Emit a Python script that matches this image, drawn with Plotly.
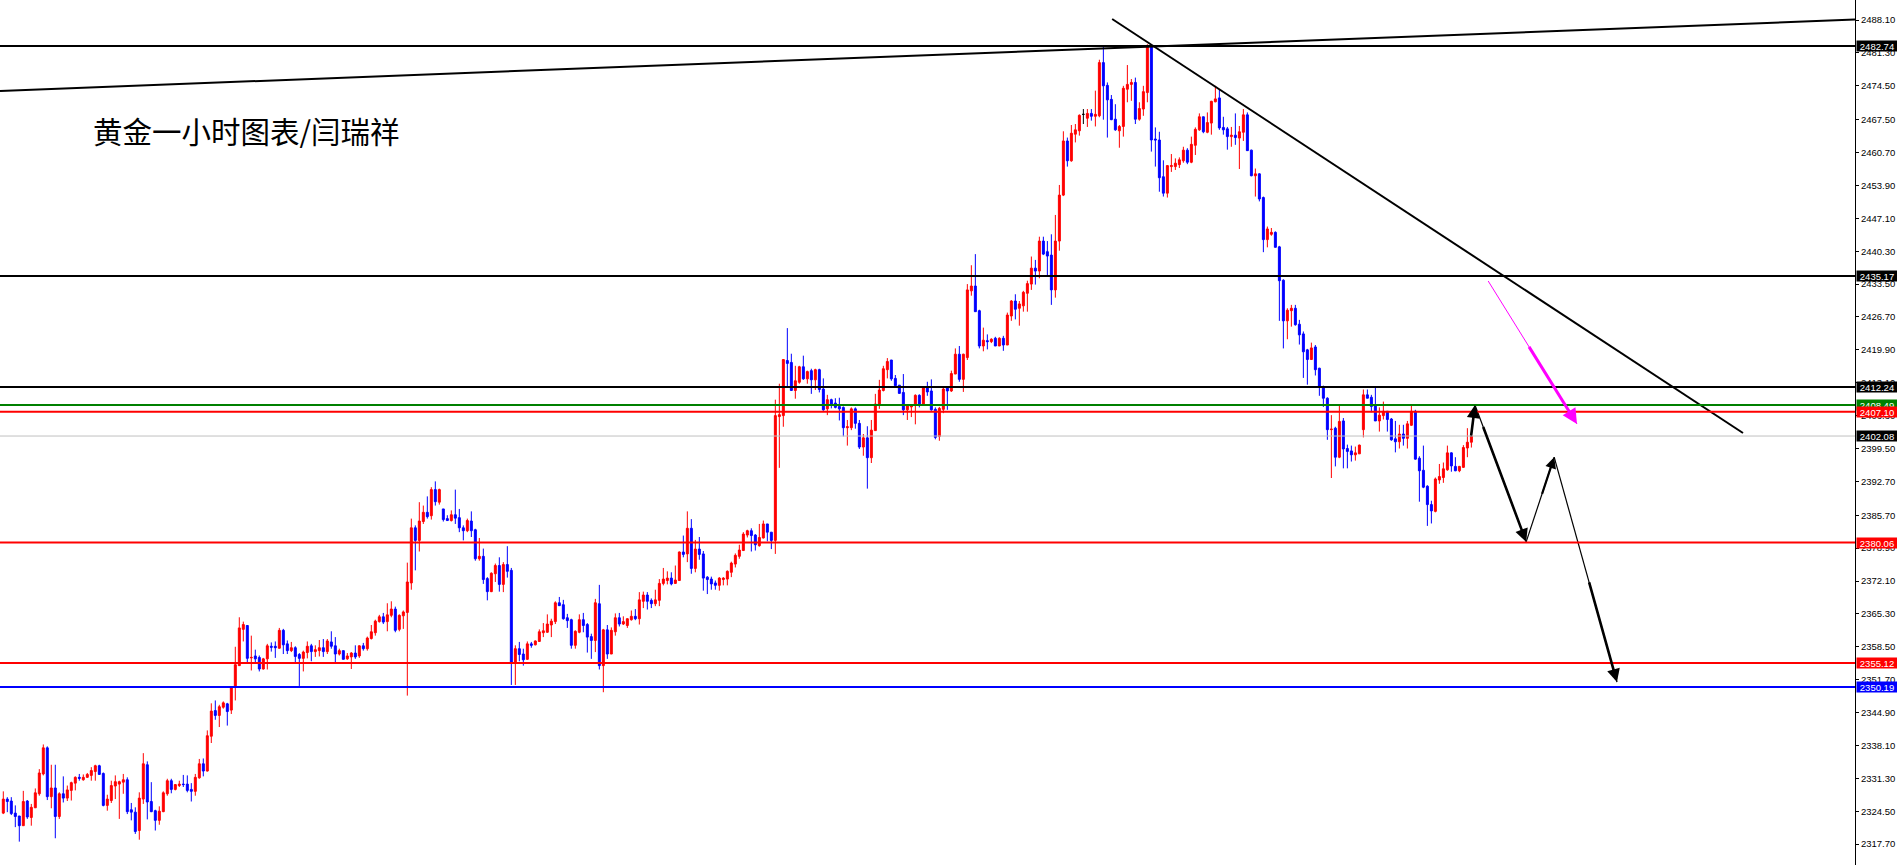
import plotly.graph_objects as go

# ---------------- data (XAUUSD H1) ----------------
opens = [
2324.1,2327.0,2326.6,2324.1,2323.5,2321.5,2326.6,2323.2,2325.2,2328.1,
2332.2,2337.6,2327.5,2329.3,2323.4,2328.1,2327.2,2328.8,2330.3,2331.5,
2331.0,2331.5,2331.9,2332.7,2333.9,2332.3,2325.7,2326.7,2329.7,2330.1,
2330.5,2331.0,2324.8,2324.3,2320.5,2327.0,2334.1,2326.5,2324.6,2322.6,
2324.4,2328.1,2330.8,2329.0,2329.8,2330.1,2330.1,2329.0,2328.6,2331.4,
2334.3,2332.8,2340.0,2345.3,2344.3,2346.0,2346.7,2345.4,2350.1,2354.6,
2362.1,2362.9,2356.2,2356.6,2356.3,2353.9,2356.0,2358.6,2358.6,2358.2,
2361.9,2359.1,2357.7,2358.3,2356.9,2356.1,2357.3,2358.7,2357.5,2357.7,
2358.3,2357.5,2359.5,2358.7,2357.0,2357.7,2356.0,2356.4,2357.2,2356.6,
2358.7,2358.1,2360.2,2361.4,2363.7,2364.7,2363.7,2365.0,2366.3,2362.1,
2364.9,2365.6,2371.7,2383.1,2380.5,2384.4,2386.3,2385.6,2391.0,2388.4,
2387.0,2385.0,2384.6,2385.8,2385.2,2383.1,2382.5,2384.5,2382.7,2376.7,
2377.2,2372.6,2369.9,2373.6,2375.3,2371.4,2375.5,2374.3,2355.1,2358.1,
2357.0,2355.9,2359.1,2358.9,2359.6,2361.4,2361.5,2363.0,2363.7,2367.6,
2367.2,2364.5,2364.1,2358.8,2361.5,2364.1,2363.1,2360.6,2359.8,2367.4,
2354.6,2362.0,2357.0,2361.6,2364.5,2363.2,2362.9,2364.1,2364.8,2364.3,
2367.9,2369.2,2368.1,2367.4,2368.1,2371.6,2372.2,2372.7,2371.6,2372.2,
2378.1,2377.7,2383.0,2374.7,2378.7,2377.7,2372.9,2372.5,2371.7,2371.2,
2372.4,2372.5,2373.9,2375.6,2377.2,2378.4,2381.6,2382.5,2381.6,2379.4,
2381.0,2383.9,2382.2,2380.5,2406.1,2406.3,2417.7,2417.3,2411.5,2413.2,
2416.4,2413.9,2415.6,2413.7,2415.8,2411.8,2407.7,2409.6,2408.9,2408.2,
2408.0,2403.8,2403.8,2407.7,2404.7,2399.8,2401.7,2397.6,2403.2,2408.6,
2411.5,2415.8,2417.8,2414.0,2412.6,2411.1,2407.5,2408.1,2408.5,2410.5,
2408.7,2412.0,2411.4,2407.6,2402.0,2407.6,2412.0,2411.4,2414.9,2419.0,
2413.8,2418.3,2432.1,2433.1,2428.0,2420.7,2421.8,2421.6,2422.3,2420.7,
2422.3,2420.9,2426.9,2430.0,2428.5,2429.0,2431.6,2433.5,2436.8,2436.2,
2442.4,2440.2,2439.5,2432.3,2442.4,2451.9,2463.1,2459.0,2464.5,2465.2,
2468.6,2467.8,2468.8,2468.2,2468.3,2479.3,2474.6,2471.7,2467.6,2465.2,
2466.1,2473.8,2474.8,2475.2,2467.6,2469.7,2473.1,2482.8,2463.5,2463.3,
2455.7,2452.3,2457.8,2457.8,2458.2,2459.0,2461.2,2458.7,2462.2,2465.4,
2468.1,2464.9,2466.8,2471.2,2472.0,2465.9,2465.6,2464.0,2464.3,2463.7,
2464.9,2468.5,2461.2,2455.9,2456.3,2451.4,2442.7,2443.8,2444.2,2441.2,
2434.3,2425.9,2428.0,2428.5,2425.2,2423.2,2419.9,2417.9,2420.5,2416.1,
2412.3,2409.9,2403.4,2403.7,2397.7,2405.2,2399.5,2399.0,2398.2,2398.4,
2403.4,2410.6,2410.1,2408.5,2405.2,2406.3,2407.2,2405.6,2401.5,2400.9,
2402.5,2401.6,2404.3,2407.2,2397.5,2395.0,2391.7,2387.9,2386.5,2393.0,
2393.5,2395.1,2398.6,2395.8,2394.9,2395.6,2399.6,2400.8]

highs = [
2328.6,2327.4,2327.4,2325.7,2323.5,2328.7,2326.8,2326.0,2329.2,2333.2,
2338.3,2337.9,2334.1,2334.1,2328.4,2331.7,2329.8,2330.6,2331.7,2332.2,
2332.1,2332.4,2333.6,2334.1,2334.1,2332.5,2327.9,2330.8,2331.9,2330.8,
2332.2,2331.5,2326.2,2325.3,2328.4,2336.5,2334.8,2330.5,2324.8,2325.5,
2328.6,2331.2,2331.2,2330.1,2330.8,2332.0,2331.9,2330.3,2332.2,2335.3,
2335.4,2341.2,2346.8,2347.4,2346.5,2347.2,2346.9,2350.3,2358.5,2364.6,
2363.7,2363.0,2360.8,2357.9,2356.7,2356.2,2359.1,2359.4,2359.6,2362.4,
2362.2,2359.8,2359.5,2358.6,2357.2,2357.7,2359.6,2359.1,2358.8,2359.9,
2360.1,2360.1,2361.7,2360.5,2358.1,2357.7,2357.2,2357.4,2358.8,2358.8,
2359.3,2360.6,2363.0,2364.1,2365.1,2365.5,2367.5,2367.9,2366.8,2365.2,
2366.0,2375.9,2385.0,2383.6,2388.4,2387.7,2389.6,2391.5,2392.7,2391.2,
2387.0,2385.7,2386.7,2391.0,2387.0,2383.6,2385.0,2386.5,2382.9,2381.0,
2378.8,2372.9,2373.9,2375.7,2377.0,2376.0,2379.3,2374.8,2358.8,2359.5,
2358.1,2359.6,2359.5,2359.8,2362.1,2363.4,2365.2,2364.3,2367.9,2368.8,
2368.2,2365.3,2364.3,2361.9,2365.2,2365.5,2363.4,2361.2,2368.4,2371.3,
2362.2,2363.0,2362.5,2365.4,2365.5,2364.8,2364.4,2366.0,2366.3,2369.8,
2369.9,2369.8,2368.5,2370.3,2372.5,2374.8,2374.1,2373.9,2375.3,2378.2,
2381.5,2386.5,2384.9,2380.6,2381.2,2378.3,2373.1,2373.0,2372.2,2372.9,
2372.9,2374.3,2376.1,2377.8,2379.6,2382.2,2382.7,2383.0,2381.8,2383.9,
2384.6,2383.9,2382.2,2409.6,2412.9,2417.9,2424.4,2419.1,2416.6,2416.6,
2418.7,2415.6,2416.0,2416.0,2416.0,2414.0,2410.6,2409.8,2409.9,2410.0,
2408.2,2405.4,2408.0,2408.0,2405.4,2402.5,2404.1,2405.4,2410.8,2413.7,
2416.6,2418.2,2417.8,2414.7,2412.6,2414.9,2408.7,2408.5,2410.7,2410.7,
2412.1,2413.3,2413.8,2408.0,2408.1,2412.1,2412.1,2415.6,2420.2,2420.7,
2419.1,2433.5,2437.4,2439.7,2428.2,2424.5,2423.1,2422.3,2422.6,2422.5,
2422.8,2427.6,2430.2,2431.4,2430.0,2432.1,2434.2,2439.2,2438.5,2443.3,
2443.3,2442.4,2443.8,2447.8,2454.0,2465.1,2463.8,2466.4,2466.6,2468.6,
2469.7,2469.7,2469.7,2473.5,2479.9,2482.9,2475.2,2472.6,2470.7,2466.4,
2474.5,2478.8,2475.9,2476.2,2471.1,2474.5,2483.1,2483.1,2465.9,2465.0,
2459.1,2458.1,2460.4,2459.5,2459.7,2461.9,2461.6,2464.0,2465.9,2468.8,
2468.1,2469.0,2471.4,2474.5,2473.8,2468.1,2466.0,2466.0,2468.8,2466.2,
2469.7,2469.0,2461.3,2457.4,2456.4,2451.6,2445.4,2445.1,2444.4,2441.4,
2434.5,2428.5,2429.2,2429.2,2426.1,2423.7,2420.1,2421.4,2420.9,2416.2,
2412.5,2410.1,2406.4,2404.0,2408.3,2405.8,2400.3,2400.1,2399.9,2400.3,
2411.7,2411.7,2410.6,2412.1,2408.0,2409.2,2407.2,2405.8,2405.2,2404.4,
2404.4,2405.2,2408.3,2407.5,2397.9,2400.1,2391.9,2388.7,2393.5,2396.3,
2396.6,2400.1,2398.7,2397.7,2395.9,2400.2,2403.7,2402.2]

lows = [
2323.9,2324.3,2323.7,2321.2,2318.2,2321.5,2322.9,2321.5,2325.2,2327.7,
2331.9,2326.8,2325.1,2318.9,2322.9,2326.3,2326.6,2326.7,2328.8,2330.8,
2330.8,2331.4,2330.8,2330.8,2332.1,2325.5,2324.6,2326.2,2327.0,2322.9,
2328.1,2323.9,2322.6,2319.8,2318.6,2326.0,2322.8,2324.3,2320.5,2321.7,
2324.3,2327.7,2328.2,2328.8,2329.5,2329.5,2328.4,2326.5,2327.7,2331.2,
2331.7,2332.7,2338.6,2343.4,2341.9,2345.7,2342.2,2344.6,2347.4,2354.6,
2359.6,2355.2,2353.6,2355.2,2353.4,2353.8,2353.8,2357.5,2356.2,2358.1,
2357.0,2357.0,2357.4,2355.3,2350.4,2353.4,2356.1,2355.5,2356.4,2356.5,
2356.4,2357.0,2358.1,2355.3,2356.7,2355.9,2355.8,2353.9,2356.0,2356.2,
2357.7,2357.7,2360.0,2360.8,2363.5,2363.2,2361.7,2364.6,2361.5,2361.7,
2362.2,2348.4,2370.3,2374.3,2378.2,2383.9,2385.0,2384.8,2387.7,2387.9,
2384.4,2384.6,2384.4,2383.9,2382.2,2380.5,2382.2,2381.2,2376.3,2376.3,
2371.5,2368.1,2369.8,2371.9,2369.9,2369.8,2372.8,2350.6,2350.6,2355.5,
2354.6,2355.8,2358.3,2358.8,2359.5,2360.5,2361.4,2360.5,2363.2,2367.0,
2364.1,2362.4,2358.1,2358.1,2361.3,2361.5,2357.3,2356.0,2357.4,2353.8,
2349.1,2356.0,2357.0,2360.8,2362.7,2363.0,2362.4,2363.9,2364.0,2363.1,
2366.5,2366.2,2366.5,2366.9,2366.9,2371.2,2371.4,2371.2,2371.6,2372.2,
2377.0,2376.0,2373.6,2373.9,2376.5,2370.1,2369.4,2370.3,2370.3,2370.1,
2371.2,2371.2,2372.9,2374.9,2376.7,2378.3,2381.1,2378.2,2378.4,2379.2,
2380.9,2380.3,2378.7,2377.7,2395.5,2404.0,2412.2,2411.5,2409.8,2412.9,
2413.7,2412.9,2410.8,2411.6,2411.1,2407.3,2406.4,2407.8,2407.8,2405.3,
2402.0,2400.1,2403.3,2403.6,2399.4,2398.0,2391.2,2396.5,2403.2,2407.7,
2411.3,2414.0,2413.5,2412.1,2410.9,2406.4,2405.4,2406.0,2404.5,2408.0,
2408.5,2410.4,2407.3,2401.4,2401.1,2406.8,2407.5,2411.2,2414.9,2413.3,
2411.2,2417.8,2431.1,2427.8,2420.2,2419.6,2420.0,2421.3,2420.7,2420.7,
2419.7,2420.9,2425.9,2426.2,2424.9,2427.8,2427.8,2432.3,2433.4,2434.7,
2439.5,2435.2,2429.2,2430.7,2440.4,2451.7,2457.8,2458.8,2462.8,2464.2,
2466.6,2466.0,2467.3,2466.1,2468.0,2467.5,2463.8,2467.4,2465.2,2461.7,
2464.0,2471.1,2471.4,2466.6,2467.3,2468.3,2471.1,2460.9,2457.8,2452.6,
2451.6,2451.4,2456.7,2457.1,2457.5,2458.6,2458.3,2458.5,2460.2,2465.2,
2464.7,2464.7,2464.4,2471.1,2465.4,2464.4,2461.3,2461.9,2462.3,2457.3,
2463.1,2461.1,2455.8,2451.6,2450.6,2440.1,2441.1,2443.5,2441.1,2425.9,
2420.2,2422.1,2424.7,2424.9,2421.0,2414.1,2412.7,2417.9,2414.6,2410.4,
2408.1,2401.3,2393.4,2395.8,2397.5,2395.4,2395.4,2396.8,2397.0,2398.4,
2401.8,2409.9,2407.0,2405.2,2403.0,2405.5,2403.0,2401.1,2398.7,2399.5,
2400.1,2399.5,2404.2,2397.2,2388.5,2391.3,2383.5,2384.0,2386.3,2392.2,
2392.4,2394.9,2394.7,2394.8,2394.6,2395.5,2397.7,2399.7]

closes = [
2327.0,2326.5,2324.0,2323.4,2321.5,2326.5,2323.3,2325.3,2328.3,2332.4,
2337.6,2327.5,2329.3,2323.4,2328.1,2327.2,2328.9,2330.4,2331.5,2331.3,
2331.5,2332.1,2332.9,2333.9,2332.1,2325.7,2327.0,2329.8,2330.6,2330.6,
2331.0,2324.4,2324.3,2320.3,2327.2,2334.3,2326.4,2324.4,2322.6,2324.5,
2328.3,2330.8,2329.0,2330.0,2330.1,2330.0,2328.8,2328.6,2331.5,2334.3,
2332.8,2340.1,2345.2,2344.3,2346.1,2346.9,2345.1,2350.1,2354.8,2362.4,
2363.1,2356.1,2356.3,2356.0,2353.9,2356.0,2358.7,2358.4,2358.3,2361.9,
2358.9,2357.7,2358.3,2356.5,2356.1,2357.4,2358.6,2357.5,2357.9,2358.3,
2357.5,2359.7,2358.6,2357.0,2357.7,2355.9,2356.6,2357.2,2356.4,2358.7,
2358.1,2360.3,2361.6,2363.8,2364.7,2363.6,2365.1,2366.3,2361.9,2365.0,
2365.7,2371.9,2383.1,2380.5,2384.5,2386.3,2385.4,2391.0,2388.5,2391.0,
2384.8,2384.6,2385.8,2385.1,2383.1,2382.5,2384.6,2382.5,2376.7,2377.2,
2372.4,2369.9,2373.7,2375.3,2371.4,2375.5,2374.1,2355.1,2358.1,2356.9,
2355.8,2359.1,2358.8,2359.7,2361.6,2361.8,2363.2,2363.8,2367.6,2367.0,
2364.3,2363.9,2358.8,2361.7,2364.1,2362.9,2360.5,2359.8,2367.6,2354.6,
2362.0,2357.0,2361.9,2364.5,2363.2,2363.7,2364.3,2364.8,2364.3,2368.2,
2369.2,2367.9,2367.4,2368.2,2371.6,2372.5,2372.7,2371.5,2372.3,2378.1,
2377.6,2383.0,2374.7,2378.7,2377.6,2372.7,2372.4,2371.5,2371.2,2372.7,
2372.7,2374.1,2375.8,2377.4,2378.5,2381.8,2382.5,2381.5,2379.6,2381.1,
2383.9,2382.2,2380.5,2406.3,2406.5,2417.9,2417.1,2411.5,2413.5,2416.4,
2413.9,2415.4,2413.7,2415.8,2411.7,2407.5,2409.6,2408.7,2408.0,2407.7,
2403.8,2404.0,2407.7,2404.7,2399.8,2401.7,2397.6,2403.3,2408.7,2411.6,
2416.0,2417.5,2413.9,2412.5,2410.9,2407.5,2408.3,2408.3,2410.5,2408.7,
2412.0,2411.2,2407.5,2401.8,2407.8,2411.8,2411.4,2415.0,2419.0,2413.8,
2419.0,2432.3,2433.1,2427.8,2420.7,2421.9,2421.6,2422.1,2420.7,2422.3,
2420.9,2427.1,2430.0,2428.3,2429.4,2431.8,2433.6,2436.8,2436.2,2442.4,
2439.7,2439.3,2432.3,2442.4,2451.9,2463.1,2459.0,2464.7,2465.4,2468.4,
2468.6,2468.8,2468.2,2468.6,2479.3,2474.5,2471.6,2467.5,2465.4,2466.1,
2474.0,2474.8,2475.2,2467.6,2469.8,2473.3,2482.8,2463.3,2463.3,2455.5,
2452.3,2458.0,2458.0,2458.5,2459.2,2461.2,2458.7,2462.4,2465.5,2468.1,
2465.0,2466.9,2471.3,2471.8,2465.8,2465.4,2464.0,2464.3,2463.8,2465.0,
2468.5,2461.1,2455.9,2456.3,2451.1,2442.7,2444.9,2444.2,2441.1,2434.2,
2425.9,2428.1,2428.5,2425.1,2423.0,2419.5,2417.9,2420.3,2415.8,2412.3,
2409.9,2403.4,2403.5,2397.7,2405.1,2399.4,2398.9,2398.2,2398.6,2400.2,
2410.6,2409.9,2408.2,2405.2,2406.4,2407.2,2405.5,2401.3,2400.9,2402.5,
2401.6,2404.6,2407.2,2397.3,2394.9,2391.5,2387.9,2386.6,2393.2,2393.7,
2395.3,2398.6,2395.9,2394.9,2395.8,2399.7,2400.8,2402.08]

# horizontal price levels: (price, colour, width)
level_prices = [2482.74, 2435.17, 2412.24, 2408.49, 2407.10, 2402.08, 2380.06, 2355.12, 2350.19]
level_colors = ["#000000", "#000000", "#000000", "#008000", "#FF0000", "#C0C0C0", "#FF0000", "#FF0000", "#0000FF"]
level_widths = [2, 2, 2, 2, 2, 1, 2, 2, 2]
label_bg = ["#000000", "#000000", "#000000", "#008000", "#FF0000", "#000000", "#FF0000", "#FF0000", "#0000FF"]

tick_values = [2488.10, 2481.30, 2474.50, 2467.50, 2460.70, 2453.90, 2447.10, 2440.30,
               2433.50, 2426.70, 2419.90, 2413.10, 2406.30, 2399.50, 2392.70, 2385.70,
               2378.90, 2372.10, 2365.30, 2358.50, 2351.70, 2344.90, 2338.10, 2331.30,
               2324.50, 2317.70]

# trend lines (bar index, price)
rise_x = [-0.825, 462.9]
rise_y = [2473.45, 2488.22]
fall_x = [277.2, 434.9]
fall_y = [2488.32, 2402.71]
# forecast arrows
magenta_x = [371.2, 393.4]
magenta_y = [2434.14, 2404.57]
zig_x = [366.9, 367.9, 380.7, 387.7, 403.4]
zig_y = [2401.9, 2408.5, 2380.2, 2397.7, 2351.2]

title_text = "黄金一小时图表/闫瑞祥"

# ---------------- figure ----------------
W, H = 1897, 865
PLOT_W = 1855
Y_MIN, Y_MAX = 2313.37, 2492.25
X_MIN, X_MAX = -0.825, 462.9

idx = list(range(len(opens)))
UP, DN = "#FF0000", "#0000FF"

norm = [i for i in idx if opens[i] != closes[i]]
doji = [i for i in idx if opens[i] == closes[i]]

fig = go.Figure()
fig.add_trace(go.Candlestick(
    x=norm, open=[opens[i] for i in norm], high=[highs[i] for i in norm],
    low=[lows[i] for i in norm], close=[closes[i] for i in norm],
    increasing=dict(line=dict(color=UP, width=1), fillcolor=UP),
    decreasing=dict(line=dict(color=DN, width=1), fillcolor=DN),
    whiskerwidth=0, showlegend=False, hoverinfo="skip"))
if doji:
    fig.add_trace(go.Candlestick(
        x=doji, open=[opens[i] for i in doji], high=[highs[i] for i in doji],
        low=[lows[i] for i in doji], close=[closes[i] for i in doji],
        increasing=dict(line=dict(color="#000000", width=1), fillcolor="#000000"),
        decreasing=dict(line=dict(color="#000000", width=1), fillcolor="#000000"),
        whiskerwidth=0, showlegend=False, hoverinfo="skip"))

# trend lines
fig.add_trace(go.Scatter(x=rise_x, y=rise_y, mode="lines", line=dict(color="#000000", width=2),
                         showlegend=False, hoverinfo="skip", cliponaxis=True))
fig.add_trace(go.Scatter(x=fall_x, y=fall_y, mode="lines", line=dict(color="#000000", width=2),
                         showlegend=False, hoverinfo="skip"))

shapes = []
for p, c, w in zip(level_prices, level_colors, level_widths):
    shapes.append(dict(type="line", xref="paper", x0=0, x1=1, yref="y", y0=p, y1=p,
                       line=dict(color=c, width=w), layer="above"))

annotations = []


def tapered(xs, ys, color, frac, thin=1.2, thick=2.6):
    # thin full segment + thick arrow over the last part
    fig.add_trace(go.Scatter(x=xs, y=ys, mode="lines", line=dict(color=color, width=thin),
                             showlegend=False, hoverinfo="skip"))
    tx = xs[0] + (xs[1] - xs[0]) * frac
    ty = ys[0] + (ys[1] - ys[0]) * frac
    annotations.append(dict(x=xs[1], y=ys[1], ax=tx, ay=ty, xref="x", yref="y",
                            axref="x", ayref="y", showarrow=True, arrowhead=2,
                            arrowsize=1.0, arrowwidth=thick, arrowcolor=color, text=""))


tapered(magenta_x, magenta_y, "#FF00FF", 0.45, thin=1.0, thick=3)
fracs = [0.0, 0.15, 0.55, 0.55]
thicks = [2.6, 2.6, 2.2, 2.6]
for k in range(4):
    tapered(zig_x[k:k + 2], zig_y[k:k + 2], "#000000", fracs[k], thin=1.2, thick=thicks[k])

# price labels on the axis
for p, bg in zip(level_prices, label_bg):
    annotations.append(dict(x=1, xref="paper", xanchor="left", xshift=1,
                            y=p, yref="y", yanchor="middle", text=f"{p:.2f}",
                            showarrow=False, bgcolor=bg, width=40, height=10, borderpad=0,
                            align="center", font=dict(family="Liberation Sans, Arial", size=9.5,
                                                      color="#FFFFFF")))

annotations.append(dict(x=91 / PLOT_W, xref="paper", xanchor="left",
                        y=1 - 130 / H, yref="paper", yanchor="middle",
                        text=title_text, showarrow=False,
                        font=dict(family="Noto Sans CJK SC", size=29.5, color="#000000")))

fig.update_layout(
    width=W, height=H, autosize=False,
    margin=dict(l=0, r=W - PLOT_W, t=0, b=0, pad=0),
    paper_bgcolor="#FFFFFF", plot_bgcolor="#FFFFFF",
    shapes=shapes, annotations=annotations, showlegend=False,
    xaxis=dict(range=[X_MIN, X_MAX], visible=False, rangeslider=dict(visible=False),
               showgrid=False, zeroline=False, fixedrange=True),
    yaxis=dict(range=[Y_MIN, Y_MAX], side="right", showgrid=False, zeroline=False,
               showline=True, linecolor="#000000", linewidth=1, ticks="outside",
               ticklen=3, tickcolor="#000000", tickvals=tick_values,
               ticktext=[f"{v:.2f}" for v in tick_values],
               tickfont=dict(family="Liberation Sans, Arial", size=9.5, color="#000000"),
               fixedrange=True),
)

fig.write_html("out.html", config={"displayModeBar": False},
               post_script="document.body.style.margin='0';document.body.style.overflow='hidden';")
